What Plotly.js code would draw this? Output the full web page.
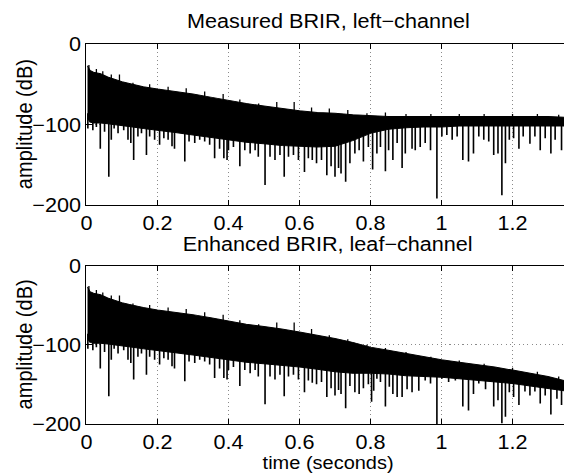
<!DOCTYPE html>
<html>
<head>
<meta charset="utf-8">
<script src="https://cdn.plot.ly/plotly-3.0.1.min.js"></script>
<style>
html,body{margin:0;padding:0;background:#fff;overflow:hidden;width:564px;height:475px}
#chart{width:522px;height:475px;transform:scale(1.0805,1);transform-origin:0 0}
</style>
</head>
<body>
<div id="chart"></div>
<script>
// ---- data (time in seconds, amplitude in dB) ----
const tEnv = [0.003,0.01,0.02,0.04,0.06,0.08,0.10,0.13,0.16,0.20,0.25,0.30,0.35,0.40,0.45,0.50,0.55,0.60,0.65,0.70,0.75,0.80,0.85,0.90,0.95,1.00,1.05,1.10,1.15,1.20,1.25,1.30,1.345];

// Measured BRIR: upper edge and lower edge of the dense black band
const measUpper = [-27,-33,-35,-37,-41,-44,-47,-50,-53,-56,-59,-62,-66,-70,-74,-77,-80,-83,-85,-86,-88,-89,-90,-90,-90,-90,-90,-90,-90,-90,-90,-90,-91];
const measFloor = [-92,-97,-98,-98,-99,-100,-101,-103,-105,-107,-110,-113,-116,-119,-122,-124,-126,-127,-128,-127,-120,-111,-106,-104,-103,-103,-102,-102,-102,-102,-102,-102,-102];

// Enhanced BRIR: upper edge and lower edge of the dense black band
const enhUpper = [-27,-33,-35,-37,-41,-44,-47,-50,-53,-56,-59,-62,-66,-70,-74,-77,-80,-84,-88,-92,-97,-103,-107,-111,-115,-119,-122,-125,-128,-132,-136,-140,-145];
const enhFloor = [-92,-97,-98,-98,-99,-100,-101,-103,-105,-107,-110,-113,-116,-119,-122,-124,-126,-128,-131,-134,-136,-136,-137,-139,-140,-141,-143,-145,-147,-149,-152,-155,-158];

// downward spikes (notches): time and depth
const measSpikeT = [0.004,0.018,0.028,0.039,0.051,0.063,0.07,0.078,0.089,0.105,0.117,0.125,0.133,0.145,0.155,0.169,0.178,0.192,0.206,0.218,0.23,0.241,0.248,0.277,0.289,0.305,0.319,0.333,0.347,0.361,0.375,0.387,0.396,0.400,0.414,0.432,0.446,0.461,0.475,0.484,0.503,0.517,0.531,0.545,0.557,0.569,0.583,0.597,
  0.614,0.625,0.636,0.648,0.662,0.677,0.689,0.7,0.71,0.717,0.73,0.742,0.756,0.768,0.78,0.794,0.806,0.818,0.828,0.842,0.851,0.863,0.875,0.889,0.898,0.917,0.926,0.94,0.954,0.969,0.987,1.001,1.015,1.03,1.044,1.06,1.076,1.09,1.105,1.119,1.133,1.147,1.159,1.17,1.18,1.191,1.203,1.218,1.23,1.249,1.263,1.278,1.292,1.308,1.32,1.338];
const measSpikeDb = [-105,-107,-103,-130,-109,-165,-119,-105,-111,-107,-119,-123,-144,-115,-111,-138,-115,-119,-125,-117,-119,-127,-130,-146,-121,-123,-119,-121,-125,-142,-130,-142,-144,-132,-128,-152,-132,-136,-132,-140,-175,-140,-144,-138,-165,-140,-138,-144,
  -159,-142,-144,-148,-144,-163,-152,-165,-154,-161,-171,-148,-136,-132,-146,-128,-156,-136,-128,-158,-132,-144,-123,-154,-136,-130,-132,-128,-123,-132,-192,-115,-113,-119,-115,-144,-146,-136,-115,-119,-121,-138,-136,-188,-148,-119,-117,-130,-115,-124,-115,-132,-117,-136,-119,-132];

const enhSpikeT = [0.004,0.018,0.028,0.039,0.051,0.063,0.07,0.078,0.089,0.105,0.117,0.125,0.133,0.145,0.155,0.169,0.178,0.192,0.206,0.218,0.23,0.241,0.248,0.277,0.289,0.305,0.319,0.333,0.347,0.361,0.375,0.387,0.396,0.400,0.414,0.432,0.446,0.461,0.475,0.484,0.503,0.517,0.531,0.545,0.557,0.569,0.583,0.597,
  0.614,0.625,0.636,0.648,0.662,0.677,0.689,0.7,0.71,0.717,0.73,0.742,0.756,0.768,0.78,0.794,0.803,0.809,0.818,0.828,0.842,0.853,0.863,0.875,0.889,0.903,0.917,0.936,0.954,0.969,0.987,1.001,1.02,1.039,1.06,1.076,1.09,1.105,1.124,1.147,1.159,1.17,1.18,1.191,1.203,1.218,1.235,1.249,1.263,1.278,1.292,1.308,1.325,1.338];
const enhSpikeDb = [-105,-107,-103,-130,-109,-165,-119,-105,-111,-107,-119,-123,-144,-115,-111,-138,-115,-119,-125,-117,-119,-127,-130,-146,-121,-123,-119,-121,-125,-142,-130,-142,-144,-132,-128,-152,-132,-136,-132,-140,-175,-140,-144,-138,-165,-140,-138,-144,
  -160,-145,-148,-150,-147,-166,-155,-164,-157,-162,-180,-152,-160,-162,-155,-150,-172,-158,-143,-147,-178,-153,-162,-166,-166,-156,-160,-158,-145,-149,-200,-143,-147,-145,-178,-183,-162,-149,-156,-178,-170,-199,-191,-160,-166,-176,-159,-164,-159,-174,-164,-188,-168,-176];

// upward peaks above the band
const measPeakT = [0.007,0.028,0.046,0.07,0.093,0.131,0.178,0.23,0.281,0.333,0.385,0.432,0.485,0.536,0.585,0.634,0.684,0.736,0.79,0.842,0.9,0.97,1.05,1.12,1.2,1.27,1.33];
const measPeakDb = [-26,-31,-34,-38,-38,-48,-50,-53,-55,-59,-62,-69,-74,-72,-72,-79,-80,-82,-86,-85,-87,-87,-87,-87,-87,-87,-88];
const enhPeakT = [0.007,0.028,0.046,0.07,0.093,0.131,0.178,0.23,0.281,0.333,0.385,0.432,0.485,0.536,0.585,0.634,0.684,0.736,0.79,0.842,0.9,0.97,1.05,1.12,1.2,1.27,1.33];
const enhPeakDb = [-26,-31,-34,-38,-38,-48,-50,-53,-55,-59,-62,-69,-74,-72,-72,-80,-88,-93,-100,-104,-109,-115,-120,-124,-129,-134,-140];

const xTicks = [0,0.2,0.4,0.6,0.8,1,1.2];
const xTickText = ['0','0.2','0.4','0.6','0.8','1','1.2'];
const yTicks = [-200,-100,0];
const yTickText = ['\u2212200','\u2212100','0'];

const titles = ['Measured BRIR, left\u2212channel','Enhanced BRIR, leaf\u2212channel'];
const yLabel = 'amplitude (dB)';
const xLabel = 'time (seconds)';

// ---- build traces ----
function nearestIdx(t){let b=0;for(let i=1;i<tEnv.length;i++){if(Math.abs(tEnv[i]-t)<Math.abs(tEnv[b]-t))b=i;}return b;}
function segs(ts, ds, ref, up){
  const x=[],y=[];
  ts.forEach((t,i)=>{
    const r = ref[nearestIdx(t)];
    const end = up ? Math.min(r, ds[i]) - 8 : Math.max(r, ds[i]) + 6;
    x.push(t,t,null); y.push(ds[i], end, null);
  });
  return {x,y};
}
function panel(upper, floor, spT, spD, pkT, pkD, xa, ya){
  const s = segs(spT, spD, floor, false);
  const p = segs(pkT, pkD, upper, true);
  const ln = {color:'#000', width:1};
  return [
    {x:tEnv, y:floor, type:'scatter', mode:'lines', line:ln, xaxis:xa, yaxis:ya},
    {x:tEnv, y:upper, type:'scatter', mode:'lines', line:ln, fill:'tonexty', fillcolor:'#000', xaxis:xa, yaxis:ya},
    {x:s.x, y:s.y, type:'scatter', mode:'lines', line:{color:'#000', width:1.5}, xaxis:xa, yaxis:ya},
    {x:p.x, y:p.y, type:'scatter', mode:'lines', line:{color:'#000', width:1.2}, xaxis:xa, yaxis:ya}
  ];
}
const data = [].concat(
  panel(measUpper, measFloor, measSpikeT, measSpikeDb, measPeakT, measPeakDb, 'x', 'y'),
  panel(enhUpper, enhFloor, enhSpikeT, enhSpikeDb, enhPeakT, enhPeakDb, 'x2', 'y2')
);

const font = {family:'"Liberation Sans", Arial, Helvetica, sans-serif', size:20, color:'#000'};
const labelFont = {family:font.family, size:18.5, color:'#000'};
function xax(anchor){
  return {anchor, range:[0,1.345], tickvals:xTicks, ticktext:xTickText, ticks:'inside', ticklen:5, tickcolor:'#000',
    showline:true, linecolor:'#000', linewidth:1, mirror:'allticks', showgrid:true, gridcolor:'#8a8a8a', griddash:'1px,3px', gridwidth:1,
    zeroline:false, tickfont:font, fixedrange:true};
}
function yax(anchor, domain){
  return {anchor, domain, range:[-200,0], tickvals:yTicks, ticktext:yTickText, ticks:'inside', ticklen:5, tickcolor:'#000',
    showline:true, linecolor:'#000', linewidth:1, mirror:false, showgrid:true, gridcolor:'#8a8a8a', griddash:'1px,3px', gridwidth:1,
    zeroline:false, tickfont:font, fixedrange:true};
}
const layout = {
  width:522, height:475, margin:{l:80, r:0, t:44, b:51},
  paper_bgcolor:'#fff', plot_bgcolor:'#fff', showlegend:false, hovermode:false, font:font,
  xaxis: xax('y'), yaxis: yax('x', [0.5763,1]),
  xaxis2: xax('y2'), yaxis2: yax('x2', [0,0.4171]),
  annotations:[
    {text:titles[0], xref:'paper', yref:'paper', x:0.506, y:1.0613, xanchor:'center', yanchor:'middle', showarrow:false, font:font},
    {text:titles[1], xref:'paper', yref:'paper', x:0.506, y:0.4737, xanchor:'center', yanchor:'middle', showarrow:false, font:font},
    {text:xLabel, xref:'paper', yref:'paper', x:0.506, y:-0.1026, xanchor:'center', yanchor:'middle', showarrow:false, font:labelFont},
    {text:yLabel, xref:'paper', yref:'paper', x:-0.1297, y:0.7882, xanchor:'center', yanchor:'middle', textangle:-90, showarrow:false, font:font},
    {text:yLabel, xref:'paper', yref:'paper', x:-0.1297, y:0.2086, xanchor:'center', yanchor:'middle', textangle:-90, showarrow:false, font:font}
  ]
};
Plotly.newPlot('chart', data, layout, {staticPlot:true, displayModeBar:false});
</script>
</body>
</html>
